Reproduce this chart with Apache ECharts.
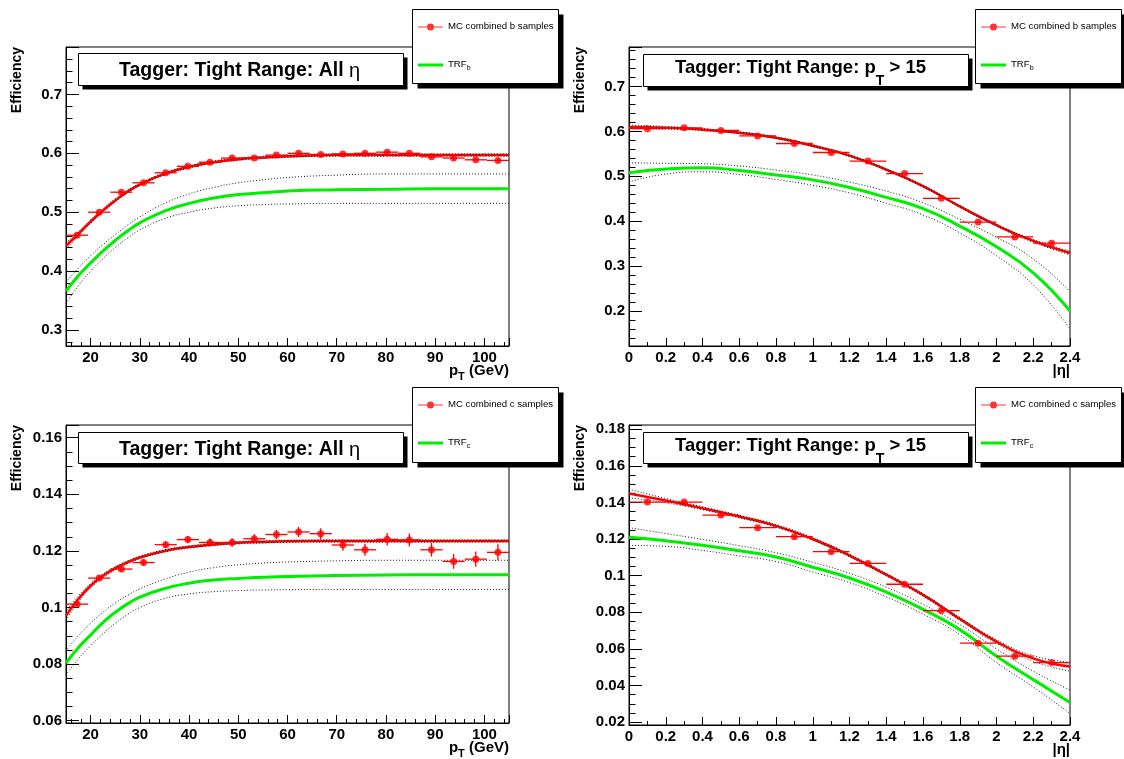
<!DOCTYPE html>
<html>
<head>
<meta charset="utf-8">
<script src="https://cdn.jsdelivr.net/npm/echarts@6/dist/echarts.min.js"></script>
<style>html,body{margin:0;padding:0;background:#fff;}#c{width:1124px;height:759px;}</style>
</head>
<body>
<div id="c"></div>
<script>
// ---------------- data ----------------
const ptCenters = [17.25, 21.75, 26.25, 30.75, 35.25, 39.75, 44.25, 48.75, 53.25, 57.75, 62.25, 66.75, 71.25, 75.75, 80.25, 84.75, 89.25, 93.75, 98.25, 102.75];
const ptHalfWidth = 2.25;
const etaCenters = [0.1, 0.3, 0.5, 0.7, 0.9, 1.1, 1.3, 1.5, 1.7, 1.9, 2.1, 2.3];
const etaHalfWidth = 0.1;
const ptCurveX = [15, 17.5, 20, 22.5, 25, 27.5, 30, 35, 40, 45, 50, 55, 60, 70, 80, 90, 105];
const etaCurveX = [0, 0.2, 0.4, 0.6, 0.8, 1.0, 1.2, 1.4, 1.6, 1.8, 2.0, 2.2, 2.4];

// b-jets vs pT
const bPtEff = [0.461, 0.500, 0.534, 0.550, 0.567, 0.578, 0.585, 0.592, 0.592, 0.597, 0.600, 0.598, 0.599, 0.600, 0.602, 0.600, 0.594, 0.592, 0.589, 0.588];
const bPtErr = [0.003, 0.002, 0.002, 0.002, 0.002, 0.002, 0.002, 0.002, 0.002, 0.002, 0.002, 0.002, 0.002, 0.002, 0.002, 0.002, 0.003, 0.003, 0.003, 0.003];
const bPtFit = [0.443, 0.463, 0.484, 0.503, 0.520, 0.535, 0.547, 0.565, 0.577, 0.585, 0.590, 0.593, 0.595, 0.597, 0.597, 0.597, 0.597];
const bPtFitUp = [0.448, 0.467, 0.487, 0.506, 0.523, 0.537, 0.549, 0.567, 0.579, 0.587, 0.592, 0.595, 0.597, 0.599, 0.599, 0.599, 0.599];
const bPtFitLo = [0.438, 0.459, 0.481, 0.500, 0.517, 0.533, 0.545, 0.563, 0.575, 0.583, 0.588, 0.591, 0.593, 0.595, 0.595, 0.595, 0.595];
const bPtTrf = [0.366, 0.392, 0.414, 0.434, 0.452, 0.468, 0.482, 0.502, 0.515, 0.524, 0.530, 0.533, 0.536, 0.538, 0.539, 0.540, 0.540];
const bPtTrfUp = [0.381, 0.405, 0.426, 0.445, 0.462, 0.478, 0.492, 0.515, 0.531, 0.542, 0.550, 0.555, 0.559, 0.563, 0.565, 0.565, 0.565];
const bPtTrfLo = [0.345, 0.375, 0.400, 0.421, 0.440, 0.456, 0.470, 0.489, 0.500, 0.507, 0.511, 0.513, 0.514, 0.515, 0.515, 0.515, 0.515];

// b-jets vs |eta|
const bEtaEff = [0.606, 0.608, 0.602, 0.590, 0.573, 0.553, 0.534, 0.506, 0.451, 0.398, 0.365, 0.351];
const bEtaErr = [0.002, 0.002, 0.002, 0.002, 0.002, 0.002, 0.002, 0.002, 0.002, 0.002, 0.002, 0.002];
const bEtaFit = [0.610, 0.608, 0.604, 0.597, 0.586, 0.568, 0.546, 0.515, 0.478, 0.433, 0.391, 0.356, 0.329];
const bEtaFitUp = [0.614, 0.611, 0.606, 0.599, 0.588, 0.570, 0.548, 0.517, 0.480, 0.435, 0.393, 0.359, 0.333];
const bEtaFitLo = [0.606, 0.605, 0.602, 0.595, 0.584, 0.566, 0.544, 0.513, 0.476, 0.431, 0.389, 0.353, 0.325];
const bEtaTrf = [0.508, 0.516, 0.519, 0.513, 0.503, 0.492, 0.475, 0.453, 0.428, 0.389, 0.343, 0.285, 0.200];
const bEtaTrfUp = [0.530, 0.529, 0.528, 0.523, 0.514, 0.503, 0.487, 0.467, 0.441, 0.404, 0.364, 0.316, 0.243];
const bEtaTrfLo = [0.487, 0.505, 0.510, 0.504, 0.493, 0.480, 0.463, 0.440, 0.414, 0.374, 0.323, 0.258, 0.160];

// c-jets vs pT
const cPtEff = [0.1012, 0.1104, 0.1136, 0.1159, 0.1222, 0.1240, 0.1230, 0.1230, 0.1243, 0.1258, 0.1267, 0.1261, 0.1221, 0.1204, 0.1241, 0.1239, 0.1204, 0.1163, 0.1171, 0.1195];
const cPtErr = [0.0008, 0.0010, 0.0010, 0.0011, 0.0012, 0.0013, 0.0014, 0.0015, 0.0016, 0.0017, 0.0018, 0.0019, 0.0020, 0.0021, 0.0022, 0.0023, 0.0024, 0.0026, 0.0027, 0.0029];
const cPtFit = [0.0971, 0.1030, 0.1077, 0.1112, 0.1139, 0.1160, 0.1177, 0.1200, 0.1214, 0.1223, 0.1229, 0.1232, 0.1234, 0.1235, 0.1235, 0.1235, 0.1235];
const cPtFitUp = [0.0986, 0.1041, 0.1085, 0.1119, 0.1145, 0.1165, 0.1182, 0.1204, 0.1218, 0.1227, 0.1233, 0.1236, 0.1238, 0.1239, 0.1239, 0.1239, 0.1239];
const cPtFitLo = [0.0956, 0.1019, 0.1069, 0.1105, 0.1133, 0.1155, 0.1172, 0.1196, 0.1210, 0.1219, 0.1225, 0.1228, 0.1230, 0.1231, 0.1231, 0.1231, 0.1231];
const cPtTrf = [0.0804, 0.0858, 0.0903, 0.0947, 0.0983, 0.1013, 0.1037, 0.1067, 0.1086, 0.1097, 0.1103, 0.1107, 0.1110, 0.1113, 0.1115, 0.1116, 0.1116];
const cPtTrfUp = [0.0847, 0.0900, 0.0945, 0.0983, 0.1016, 0.1043, 0.1066, 0.1100, 0.1125, 0.1141, 0.1151, 0.1157, 0.1161, 0.1165, 0.1167, 0.1167, 0.1167];
const cPtTrfLo = [0.0762, 0.0818, 0.0865, 0.0907, 0.0944, 0.0975, 0.1000, 0.1032, 0.1048, 0.1056, 0.1060, 0.1062, 0.1063, 0.1064, 0.1064, 0.1064, 0.1064];

// c-jets vs |eta|
const cEtaEff = [0.1402, 0.1402, 0.1331, 0.1262, 0.1213, 0.1131, 0.1067, 0.0953, 0.0809, 0.0631, 0.0560, 0.0525];
const cEtaErr = [0.0008, 0.0008, 0.0008, 0.0008, 0.0008, 0.0008, 0.0008, 0.0008, 0.0008, 0.0008, 0.0008, 0.0008];
const cEtaFit = [0.1449, 0.1410, 0.1368, 0.1323, 0.1272, 0.1200, 0.1110, 0.1005, 0.0895, 0.0764, 0.0640, 0.0548, 0.0503];
const cEtaFitUp = [0.1472, 0.1422, 0.1376, 0.1330, 0.1279, 0.1207, 0.1117, 0.1012, 0.0902, 0.0772, 0.0650, 0.0563, 0.0528];
const cEtaFitLo = [0.1426, 0.1398, 0.1360, 0.1316, 0.1265, 0.1193, 0.1103, 0.0998, 0.0888, 0.0756, 0.0630, 0.0533, 0.0478];
const cEtaTrf = [0.1210, 0.1191, 0.1166, 0.1136, 0.1102, 0.1046, 0.0987, 0.0910, 0.0816, 0.0705, 0.0560, 0.0432, 0.0307];
const cEtaTrfUp = [0.1262, 0.1230, 0.1198, 0.1164, 0.1125, 0.1073, 0.1013, 0.0937, 0.0843, 0.0733, 0.0600, 0.0478, 0.0375];
const cEtaTrfLo = [0.1165, 0.1160, 0.1138, 0.1108, 0.1077, 0.1020, 0.0962, 0.0884, 0.0790, 0.0678, 0.0525, 0.0392, 0.0247];

const yTitle = 'Efficiency';
const bDataName = 'MC combined b samples';
const cDataName = 'MC combined c samples';
const bTrfName = 'TRF_b';
const cTrfName = 'TRF_c';

// ---------------- layout / style ----------------
const FONT = '"Liberation Sans", Arial, Helvetica, sans-serif';
const RED = '#ff0000';
const GREEN = '#00ee00';
const DOT = '#1a1a1a';

const etaTitle = '{m|Tagger: Tight Range: All }{e|η}';
const ptTitle = '{m|Tagger: Tight Range: p}{s|T}{m| > 15}';
const etaTitleRich = {
  m: {fontSize: 19.5, fontWeight: 'bold', lineHeight: 24, verticalAlign: 'top', color: '#000', fontFamily: FONT},
  e: {fontSize: 20, fontWeight: 'normal', lineHeight: 24, verticalAlign: 'top', color: '#000', fontFamily: FONT}
};
const ptTitleRich = {
  m: {fontSize: 18.5, fontWeight: 'bold', lineHeight: 17, verticalAlign: 'top', color: '#000', fontFamily: FONT},
  s: {fontSize: 14, fontWeight: 'bold', lineHeight: 10, padding: [16, 0, 0, 0], verticalAlign: 'top', color: '#000', fontFamily: FONT}
};

const panels = [
  {grid: {left: 66, top: 47, width: 443, height: 299}, x: [15, 105], xStep: 10, xMinor: 5, y: [0.2728, 0.7806], yStep: 0.1, yMinor: 5,
   eta: false, cx: ptCenters, hw: ptHalfWidth, eff: bPtEff, err: bPtErr, curveX: ptCurveX,
   fit: bPtFit, fitUp: bPtFitUp, fitLo: bPtFitLo, trf: bPtTrf, trfUp: bPtTrfUp, trfLo: bPtTrfLo,
   dataName: bDataName, trfName: bTrfName, title: etaTitle, rich: etaTitleRich,
   titleBox: [78, 53, 325, 32], titleText: {left: 78, top: 57}, titlePad: [4, 42, 4, 41],
   legendBox: [412, 9, 146, 74]},
  {grid: {left: 629, top: 47, width: 441, height: 299}, x: [0, 2.4], xStep: 0.2, xMinor: 2, y: [0.122, 0.788], yStep: 0.1, yMinor: 5,
   eta: true, cx: etaCenters, hw: etaHalfWidth, eff: bEtaEff, err: bEtaErr, curveX: etaCurveX,
   fit: bEtaFit, fitUp: bEtaFitUp, fitLo: bEtaFitLo, trf: bEtaTrf, trfUp: bEtaTrfUp, trfLo: bEtaTrfLo,
   dataName: bDataName, trfName: bTrfName, title: ptTitle, rich: ptTitleRich,
   titleBox: [643, 54, 325, 32], titleText: {left: 642, top: 54}, titlePad: [4, 41, 1, 33],
   legendBox: [975, 9, 146, 74]},
  {grid: {left: 66, top: 425, width: 443, height: 300}, x: [15, 105], xStep: 10, xMinor: 5, y: [0.0592, 0.1645], yStep: 0.02, yMinor: 4,
   eta: false, cx: ptCenters, hw: ptHalfWidth, eff: cPtEff, err: cPtErr, curveX: ptCurveX,
   fit: cPtFit, fitUp: cPtFitUp, fitLo: cPtFitLo, trf: cPtTrf, trfUp: cPtTrfUp, trfLo: cPtTrfLo,
   dataName: cDataName, trfName: cTrfName, title: etaTitle, rich: etaTitleRich,
   titleBox: [78, 432, 325, 31], titleText: {left: 78, top: 436}, titlePad: [4, 42, 4, 41],
   legendBox: [412, 387, 146, 75]},
  {grid: {left: 629, top: 425, width: 441, height: 300}, x: [0, 2.4], xStep: 0.2, xMinor: 2, y: [0.0184, 0.1823], yStep: 0.02, yMinor: 4,
   eta: true, cx: etaCenters, hw: etaHalfWidth, eff: cEtaEff, err: cEtaErr, curveX: etaCurveX,
   fit: cEtaFit, fitUp: cEtaFitUp, fitLo: cEtaFitLo, trf: cEtaTrf, trfUp: cEtaTrfUp, trfLo: cEtaTrfLo,
   dataName: cDataName, trfName: cTrfName, title: ptTitle, rich: ptTitleRich,
   titleBox: [643, 432, 325, 31], titleText: {left: 642, top: 432}, titlePad: [4, 41, 1, 33],
   legendBox: [975, 387, 146, 75]}
];

function pairs(xs, ys) { return xs.map(function (x, i) { return [x, ys[i]]; }); }
function majorFormatter(step) {
  return function (v) {
    const r = v / step;
    if (Math.abs(r - Math.round(r)) > 1e-6) return '';
    return String(parseFloat(v.toFixed(6)));
  };
}
function boxWithShadow(b, off) {
  return [
    {type: 'rect', z: 10, silent: true, shape: {x: b[0] + off + 0.5, y: b[1] + off + 0.5, width: b[2], height: b[3]}, style: {fill: '#000'}},
    {type: 'rect', z: 11, silent: true, shape: {x: b[0] + 0.5, y: b[1] + 0.5, width: b[2], height: b[3]}, style: {fill: '#fff', stroke: '#000', lineWidth: 1}}
  ];
}
const labelStyle = {color: '#000', fontSize: 15, fontWeight: 'bold', fontFamily: FONT};

const grids = [], xAxes = [], yAxes = [], titles = [], legends = [], series = [], graphics = [];
const dataIcon = 'path://M0 3.5L25 3.5L25 4.5L0 4.5Z M9 4A3.5 3.5 0 1 1 16 4A3.5 3.5 0 1 1 9 4Z';
const trfIcon = 'path://M0 0L25 0L25 3L0 3Z';

panels.forEach(function (p, i) {
  grids.push(Object.assign({show: true, borderColor: '#000', borderWidth: 1, backgroundColor: 'transparent', containLabel: false}, p.grid));
  xAxes.push({
    type: 'value', gridIndex: i, min: p.x[0], max: p.x[1],
    splitNumber: Math.round((p.x[1] - p.x[0]) / p.xStep), minInterval: p.xStep, maxInterval: p.xStep,
    axisLine: {show: true, onZero: false, lineStyle: {color: '#000', width: 1}},
    axisTick: {show: true, inside: true, length: 8, lineStyle: {color: '#000', width: 1}},
    minorTick: {show: true, splitNumber: p.xMinor, length: 4, lineStyle: {color: '#000', width: 1}},
    splitLine: {show: false}, minorSplitLine: {show: false},
    axisLabel: Object.assign({margin: 4, showMinLabel: true, showMaxLabel: true, formatter: majorFormatter(p.xStep)}, labelStyle),
    name: p.eta ? '{a|\u007Cη\u007C}' : '{a|p}{s|T}{a| (GeV)}',
    nameLocation: 'end', nameGap: 0, nameMoveOverlap: false,
    nameTextStyle: {align: 'right', verticalAlign: 'top', padding: [17, 0, 0, 0], color: '#000',
      rich: {
        a: {fontSize: 15, fontWeight: 'bold', lineHeight: 17, verticalAlign: 'top', color: '#000', fontFamily: FONT},
        s: {fontSize: 11, fontWeight: 'bold', lineHeight: 10, padding: [8, 0, 0, 0], verticalAlign: 'top', color: '#000', fontFamily: FONT}
      }}
  });
  yAxes.push({
    type: 'value', gridIndex: i, min: p.y[0], max: p.y[1],
    splitNumber: Math.round((p.y[1] - p.y[0]) / p.yStep), minInterval: p.yStep, maxInterval: p.yStep,
    axisLine: {show: true, onZero: false, lineStyle: {color: '#000', width: 1}},
    axisTick: {show: true, inside: true, length: 13, lineStyle: {color: '#000', width: 1}},
    minorTick: {show: true, splitNumber: p.yMinor, length: 6.5, lineStyle: {color: '#000', width: 1}},
    splitLine: {show: false}, minorSplitLine: {show: false},
    axisLabel: Object.assign({margin: 4, showMinLabel: true, showMaxLabel: true, formatter: majorFormatter(p.yStep)}, labelStyle),
    name: yTitle, nameLocation: 'end', nameRotate: 90, nameGap: 0, nameMoveOverlap: false,
    nameTextStyle: {align: 'right', verticalAlign: 'bottom', padding: [0, 0, 41, 0], color: '#000',
      fontSize: 14, fontWeight: 'bold', fontFamily: FONT, lineHeight: 16}
  });
  graphics.push.apply(graphics, boxWithShadow(p.titleBox, 4));
  graphics.push.apply(graphics, boxWithShadow(p.legendBox, 5));
  titles.push({
    z: 12, text: p.title, left: p.titleText.left, top: p.titleText.top, padding: p.titlePad,
    backgroundColor: 'transparent', borderWidth: 0,
    textStyle: {rich: p.rich, fontFamily: FONT}
  });
  legends.push({
    z: 12, left: p.legendBox[0], top: p.legendBox[1], orient: 'vertical',
    itemWidth: 25, itemHeight: 10, itemGap: 28, padding: [12, 3, 12, 6],
    backgroundColor: 'transparent', borderWidth: 0,
    selectedMode: false,
    data: [{name: p.dataName, icon: dataIcon}, {name: p.trfName, icon: trfIcon}],
    formatter: function (name) {
      if (name.indexOf('TRF_') === 0) return '{n|TRF}{s|' + name.slice(4) + '}';
      return '{n|' + name + '}';
    },
    textStyle: {color: '#000', fontFamily: FONT, fontSize: 9.6,
      rich: {
        n: {fontSize: 9.6, lineHeight: 12, verticalAlign: 'top', color: '#000', fontFamily: FONT},
        s: {fontSize: 7, lineHeight: 8, padding: [6, 0, 0, 0], verticalAlign: 'top', color: '#000', fontFamily: FONT}
      }}
  });

  const base = {xAxisIndex: i, yAxisIndex: i, silent: true};
  const dotted = {color: DOT, width: 1, type: [1, 2]};
  series.push(Object.assign({type: 'line', name: 'trf band up ' + i, data: pairs(p.curveX, p.trfUp), smooth: true, symbol: 'none', lineStyle: dotted, z: 2}, base));
  series.push(Object.assign({type: 'line', name: 'trf band lo ' + i, data: pairs(p.curveX, p.trfLo), smooth: true, symbol: 'none', lineStyle: dotted, z: 2}, base));
  series.push(Object.assign({type: 'line', name: p.trfName, data: pairs(p.curveX, p.trf), smooth: true, symbol: 'none', showSymbol: false,
    itemStyle: {color: GREEN}, lineStyle: {color: GREEN, width: 3}, z: 3}, base));
  series.push(Object.assign({type: 'line', name: 'fit ' + i, data: pairs(p.curveX, p.fit), smooth: true, symbol: 'none',
    lineStyle: {color: RED, width: 2.5}, z: 3}, base));
  series.push(Object.assign({type: 'line', name: 'fit band up ' + i, data: pairs(p.curveX, p.fitUp), smooth: true, symbol: 'none', lineStyle: dotted, z: 4}, base));
  series.push(Object.assign({type: 'line', name: 'fit band lo ' + i, data: pairs(p.curveX, p.fitLo), smooth: true, symbol: 'none', lineStyle: dotted, z: 4}, base));
  series.push(Object.assign({
    type: 'custom', name: 'errors ' + i, z: 5,
    data: p.cx.map(function (x, k) { return [x, p.eff[k], p.hw, p.err[k]]; }),
    encode: {x: 0, y: 1},
    renderItem: function (params, api) {
      const x = api.value(0), y = api.value(1), hw = api.value(2), e = api.value(3);
      const l = api.coord([x - hw, y]), r = api.coord([x + hw, y]);
      const b = api.coord([x, y - e]), t = api.coord([x, y + e]);
      return {type: 'group', children: [
        {type: 'line', shape: {x1: l[0], y1: l[1], x2: r[0], y2: r[1]}, style: {stroke: RED, lineWidth: 1.3}},
        {type: 'line', shape: {x1: b[0], y1: b[1], x2: t[0], y2: t[1]}, style: {stroke: RED, lineWidth: 1.3}}
      ]};
    }
  }, base));
  series.push(Object.assign({type: 'scatter', name: p.dataName, data: pairs(p.cx, p.eff), symbol: 'circle', symbolSize: 7,
    itemStyle: {color: RED}, z: 6}, base));
});

const chart = echarts.init(document.getElementById('c'), null, {renderer: 'canvas'});
chart.setOption({
  backgroundColor: '#fff',
  animation: false,
  textStyle: {fontFamily: FONT},
  grid: grids, xAxis: xAxes, yAxis: yAxes,
  title: titles, legend: legends, series: series,
  graphic: {elements: graphics}
});
</script>
</body>
</html>
